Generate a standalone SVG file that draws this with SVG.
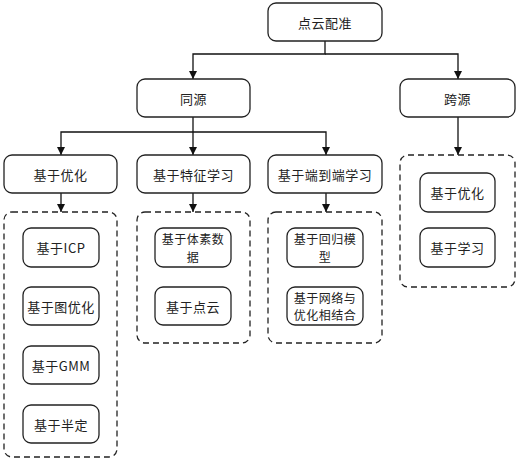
<svg xmlns="http://www.w3.org/2000/svg" width="519" height="462" viewBox="0 0 519 462">
<defs>
<marker id="arr" markerWidth="9" markerHeight="9" refX="8" refY="4" orient="auto" markerUnits="userSpaceOnUse">
<path d="M0,0 L8,4 L0,8 Z" fill="#111"/>
</marker>
<style>
.box{fill:#fff;stroke:#222;stroke-width:1.3}
.grp{fill:none;stroke:#222;stroke-width:1.3;stroke-dasharray:6,4}
.ln{fill:none;stroke:#111;stroke-width:1.3}
text{font-family:"Noto Sans CJK SC","Liberation Serif",sans-serif;font-size:13px;fill:#222;text-anchor:middle;dominant-baseline:central;letter-spacing:0.5px}
.two{font-size:12px}
</style>
</defs>
<rect width="519" height="462" fill="#fff"/>
<g id="connectors">
<path class="ln" d="M325,41 V54 H193 V79" marker-end="url(#arr)"/>
<path class="ln" d="M325,54 H458 V79" marker-end="url(#arr)"/>
<path class="ln" d="M193,117 V155" marker-end="url(#arr)"/>
<path class="ln" d="M193,132 H61 V155" marker-end="url(#arr)"/>
<path class="ln" d="M193,132 H326 V155" marker-end="url(#arr)"/>
<path class="ln" d="M458,117 V155" marker-end="url(#arr)"/>
<path class="ln" d="M61,193 V212" marker-end="url(#arr)"/>
<path class="ln" d="M193,193 V212" marker-end="url(#arr)"/>
<path class="ln" d="M326,193 V212" marker-end="url(#arr)"/>
</g>
<g id="root"><rect class="box" x="268" y="3" width="114" height="38" rx="8"/><text x="325" y="22">点云配准</text></g>
<g id="tongyuan"><rect class="box" x="137" y="79" width="113" height="38" rx="8"/><text x="193.5" y="98">同源</text></g>
<g id="kuayuan"><rect class="box" x="400" y="79" width="115" height="38" rx="8"/><text x="457.5" y="98">跨源</text></g>
<g id="youhua"><rect class="box" x="4" y="155" width="113" height="38" rx="8"/><text x="60.5" y="174">基于优化</text></g>
<g id="tezheng"><rect class="box" x="137" y="155" width="113" height="38" rx="8"/><text x="193.5" y="174">基于特征学习</text></g>
<g id="duandaoduan"><rect class="box" x="268" y="155" width="114" height="38" rx="8"/><text x="325" y="174">基于端到端学习</text></g>
<g id="grp-youhua"><rect class="grp" x="4" y="212" width="113" height="245" rx="8"/></g>
<g id="grp-tezheng"><rect class="grp" x="137" y="212" width="113" height="131" rx="8"/></g>
<g id="grp-duan"><rect class="grp" x="268" y="212" width="114" height="131" rx="8"/></g>
<g id="grp-kuayuan"><rect class="grp" x="400" y="155" width="115" height="132" rx="8"/></g>
<g id="icp"><rect class="box" x="23" y="228" width="76" height="39" rx="8"/><text x="61" y="247.5">基于ICP</text></g>
<g id="tu"><rect class="box" x="23" y="287" width="76" height="38" rx="8"/><text x="61" y="306">基于图优化</text></g>
<g id="gmm"><rect class="box" x="23" y="346" width="76" height="38" rx="8"/><text x="61" y="365">基于GMM</text></g>
<g id="banding"><rect class="box" x="23" y="405" width="76" height="38" rx="8"/><text x="61" y="424">基于半定</text></g>
<g id="tisu"><rect class="box" x="155" y="228" width="76" height="39" rx="8"/><text class="two" x="193" y="238.5">基于体素数</text><text class="two" x="193" y="256">据</text></g>
<g id="dianyun"><rect class="box" x="155" y="287" width="76" height="38" rx="8"/><text x="193" y="306">基于点云</text></g>
<g id="huigui"><rect class="box" x="287" y="228" width="76" height="39" rx="8"/><text class="two" x="325" y="238.5">基于回归模</text><text class="two" x="325" y="256">型</text></g>
<g id="wangluo"><rect class="box" x="287" y="287" width="76" height="38" rx="8"/><text class="two" x="325" y="297.3">基于网络与</text><text class="two" x="325" y="314.8">优化相结合</text></g>
<g id="k-youhua"><rect class="box" x="420" y="173" width="75" height="39" rx="8"/><text x="457.5" y="192.5">基于优化</text></g>
<g id="k-xuexi"><rect class="box" x="420" y="228" width="75" height="39" rx="8"/><text x="457.5" y="247.5">基于学习</text></g>
</svg>
